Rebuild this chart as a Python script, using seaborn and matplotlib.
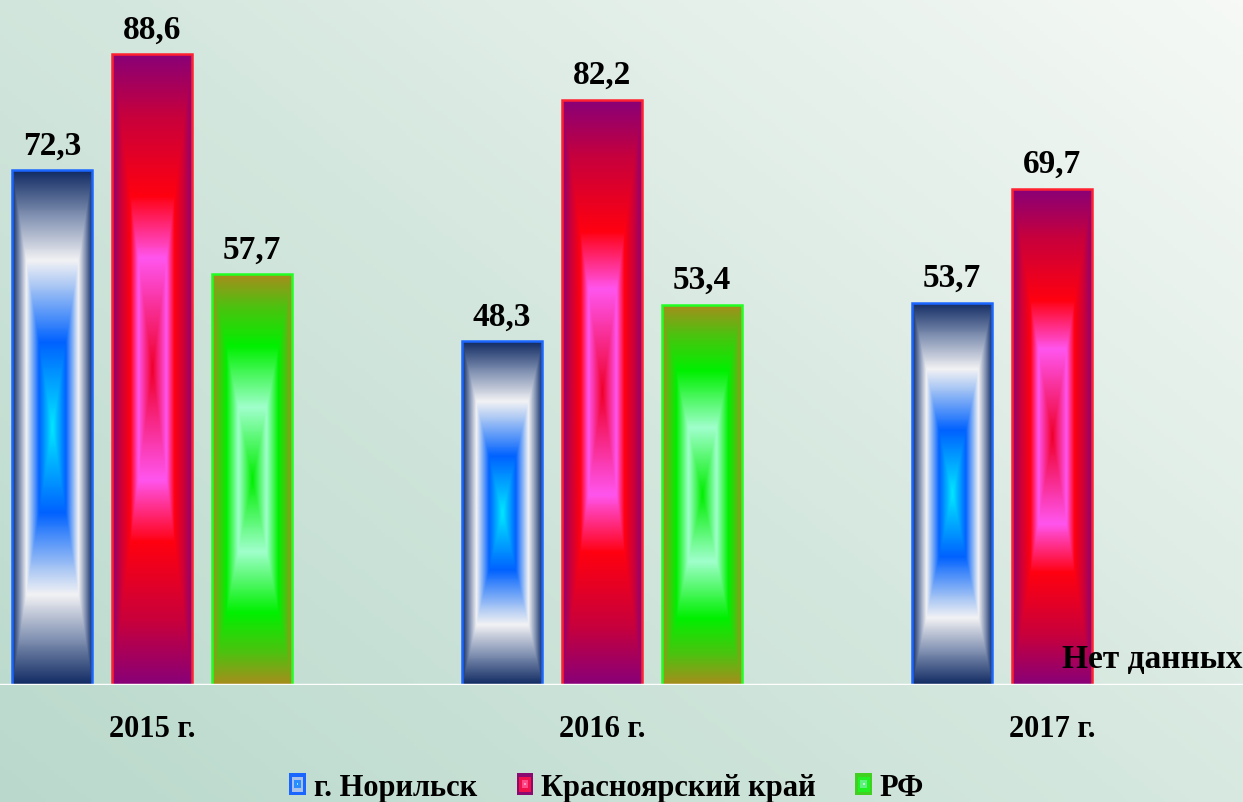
import numpy as np
import pandas as pd
import matplotlib
matplotlib.use('Agg')
import matplotlib.pyplot as plt
import seaborn as sns
from matplotlib.colors import LinearSegmentedColormap
from matplotlib.patches import Rectangle
from matplotlib.legend_handler import HandlerBase

# данные
years = ['2015 г.', '2016 г.', '2017 г.']
regions = ['г. Норильск', 'Красноярский край', 'РФ']
norilsk = [72.3, 48.3, 53.7]
krasnoyarsk = [88.6, 82.2, 69.7]
rf = [57.7, 53.4, np.nan]
no_data_text = 'Нет данных'

df = pd.DataFrame({
    'year': years * 3,
    'region': [r for r in regions for _ in years],
    'value': norilsk + krasnoyarsk + rf,
})

# градиенты: от центра (0) к краю (1)
grad = {
    'г. Норильск': [(0.0, '#00e8ff'), (0.33, '#0062ff'), (0.55, '#a8c6f4'),
                    (0.65, '#f2f2f4'), (0.82, '#8494b4'), (1.0, '#102a62')],
    'Красноярский край': [(0.0, '#f0002a'), (0.35, '#ff55ee'), (0.55, '#ff0010'),
                          (0.8, '#c8003c'), (1.0, '#880078')],
    'РФ': [(0.0, '#00ee00'), (0.35, '#a0ffcc'), (0.65, '#00f000'),
           (0.85, '#50c010'), (1.0, '#a88c1c')],
}
edges = {'г. Норильск': '#1a66ff', 'Красноярский край': '#ff2030', 'РФ': '#22ff22'}
cmaps = {k: LinearSegmentedColormap.from_list(k, v) for k, v in grad.items()}

sns.set_theme(style='white')
plt.rcParams['font.family'] = ['Liberation Serif', 'DejaVu Serif']
plt.rcParams['font.weight'] = 'bold'
plt.rcParams['text.color'] = 'black'
plt.rcParams['xtick.color'] = 'black'

fig = plt.figure(figsize=(12.43, 8.03), dpi=100)

# фон
bg = fig.add_axes([0, 0, 1, 1], zorder=-5)
yy, xx = np.mgrid[0:1:200j, 0:1:300j]
s = np.clip(0.55 * xx + 0.45 * (1 - yy), 0, 1)
bg_cmap = LinearSegmentedColormap.from_list('bg', ['#bad9cc', '#d4e7de', '#f6f9f6'])
bg.imshow(s, cmap=bg_cmap, aspect='auto', extent=[0, 1, 0, 1], origin='upper')
bg.axis('off')

ax = fig.add_axes([0, 1 - 686 / 803, 1, 686 / 803])
ax.patch.set_alpha(0)

sns.barplot(data=df, x='year', y='value', hue='region', order=years,
            hue_order=regions, width=0.667, gap=0.2, errorbar=None,
            legend=False, ax=ax)

u = np.linspace(-1, 1, 80)
v = np.linspace(-1, 1, 500)
T = np.maximum(np.abs(u)[None, :], np.abs(v)[:, None])

for region, cont in zip(regions, ax.containers):
    for p in cont:
        h = p.get_height()
        if not np.isfinite(h) or h == 0:
            continue
        x0, w = p.get_x(), p.get_width()
        img = cmaps[region](T)
        im = ax.imshow(img, extent=[x0, x0 + w, 0, h], aspect='auto',
                       interpolation='bilinear', zorder=2)
        im.set_clip_path(p)
        p.set_facecolor('none')
        p.set_edgecolor(edges[region])
        p.set_linewidth(1.8)
        p.set_zorder(3)
    labels = [f'{b.get_height():.1f}'.replace('.', ',') if np.isfinite(b.get_height()) else ''
              for b in cont]
    ax.bar_label(cont, labels=labels, padding=7, fontsize=24, fontweight='bold',
                 color='black')

# подпись об отсутствии данных (позиция отсутствующего столбца РФ 2017)
ax.text(2 + 0.667 / 3, 2.5, no_data_text, ha='center', va='baseline',
        fontsize=24, fontweight='bold', color='black', zorder=5)

ax.set_xlim(-152 / 450, (1243 - 152) / 450)
ax.set_ylim(0, 686 / 7.122)
ax.axhline(0, color='white', lw=2.5, zorder=4)
for sp in ax.spines.values():
    sp.set_visible(False)
ax.set_yticks([])
ax.set_xlabel('')
ax.set_ylabel('')
ax.tick_params(axis='x', length=0, pad=21, labelsize=22, labelcolor='black')
for t in ax.get_xticklabels():
    t.set_fontweight('bold')


class GradHandler(HandlerBase):
    def __init__(self, cols):
        super().__init__()
        self.cols = cols

    def create_artists(self, legend, orig, xd, yd, width, height, fontsize, trans):
        arts = []
        for k, c in enumerate(self.cols):
            f = 1 - k * 0.3
            ww, hh = width * f, height * f
            r = Rectangle((xd + (width - ww) / 2, yd + (height - hh) / 2), ww, hh,
                          facecolor=c, edgecolor='none', transform=trans)
            arts.append(r)
        return arts


handles = [Rectangle((0, 0), 1, 1) for _ in regions]
hmap = {
    handles[0]: GradHandler(['#1a66ff', '#a8c0ea', '#2a8cff', '#80f0ff']),
    handles[1]: GradHandler(['#8a0a70', '#f0104a', '#ff4a8a', '#ff90c0']),
    handles[2]: GradHandler(['#40d020', '#22f022', '#60f080', '#c0ffd0']),
}
leg = fig.legend(handles, regions, handler_map=hmap, loc='lower center',
                 bbox_to_anchor=(0.488, -0.034), ncol=3, frameon=False,
                 handlelength=0.55, handleheight=0.7,
                 handletextpad=0.25, columnspacing=1.3,
                 prop={'weight': 'bold', 'size': 22})
for t in leg.get_texts():
    t.set_color('black')

fig.savefig('out.png', dpi=100)
